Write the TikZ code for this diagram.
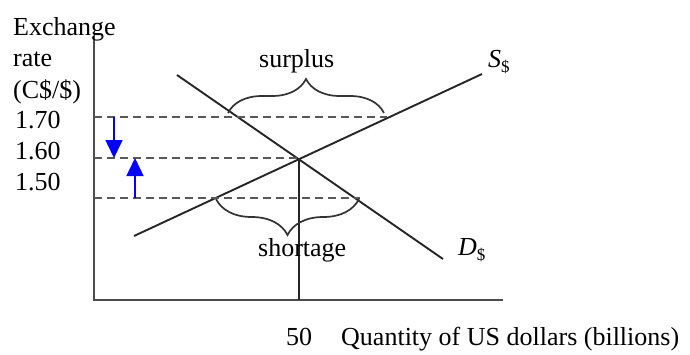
\documentclass[tikz,border=0pt]{standalone}
\usepackage{fontspec}
\setmainfont{Liberation Serif}
\usepackage{tikz}
\usetikzlibrary{arrows.meta,decorations.pathreplacing}

\newcommand{\cursym}[1]{\textit{#1}\raisebox{-.45ex}{\fontsize{17}{17}\selectfont\$}}

\begin{document}
\begin{tikzpicture}[
  x=1pt, y=-1pt,
  font=\fontsize{26}{31}\selectfont,
  lbl/.style={inner sep=0pt, anchor=base west},
  axis/.style={line width=2.2pt, draw=black!70},
  curve/.style={line width=1.9pt, draw=black!85},
  guide/.style={line width=1.8pt, draw=black!65, dash pattern=on 8pt off 5pt},
  brc/.style={line width=1.7pt, draw=black!80, decorate},
  move/.style={line width=1.6pt, draw=blue, -{Triangle[length=18pt, width=17pt]}, fill=blue},
]
\useasboundingbox (0,0) rectangle (690,354);

% axes
\coordinate (origin) at (94,300);
\coordinate (ytop) at (94,36);
\coordinate (xend) at (503,300);
\draw[axis] (ytop) -- (origin) -- (xend);

% axis labels
\node[lbl] (ylab1) at (13,35) {Exchange};
\node[lbl] (ylab2) at (13,66) {rate};
\node[lbl] (ylab3) at (13,98) {(C\$/\$)};
\node[lbl] (r170) at (15,128) {1.70};
\node[lbl] (r160) at (15,159) {1.60};
\node[lbl] (r150) at (15,190) {1.50};
\node[lbl] (q50) at (286,345) {50};
\node[lbl] (xlab) at (341,345) {Quantity of US dollars (billions)};

% supply and demand
\coordinate (s1) at (134,236);
\coordinate (s2) at (482,74);
\coordinate (d1) at (177,75);
\coordinate (d2) at (443,259);
\coordinate (eq) at (299,158);
\draw[curve] (s1) -- (s2);
\draw[curve] (d1) -- (d2);
\node[lbl] (slab) at (488,67) {\cursym{S}};
\node[lbl] (dlab) at (458,255) {\cursym{D}};

% price levels
\coordinate (y170) at (94,117);
\coordinate (y160) at (94,158);
\coordinate (y150) at (94,198);
\coordinate (e170) at (387,117);
\coordinate (e150) at (360,198);
\draw[guide] (y170) -- (e170);
\draw[guide] (y160) -- (eq);
\draw[guide] (y150) -- (e150);
\draw[curve] (eq) -- (eq |- origin);

% surplus and shortage
\coordinate (sur1) at (228,113);
\coordinate (sur2) at (384,113);
\coordinate (sho1) at (216,199);
\coordinate (sho2) at (359,199);
\draw[brc, decoration={brace, amplitude=34pt}] (sur1) -- (sur2);
\draw[brc, decoration={brace, amplitude=36pt}] (sho2) -- (sho1);
\node[lbl] (surlab) at (259,67) {surplus};
\node[lbl] (sholab) at (258,256) {shortage};

% adjustment arrows
\coordinate (dn1) at (114,117);
\coordinate (dn2) at (114,158);
\coordinate (up1) at (135,198);
\coordinate (up2) at (135,158);
\draw[move] (dn1) -- (dn2);
\draw[move] (up1) -- (up2);
\end{tikzpicture}
\end{document}
